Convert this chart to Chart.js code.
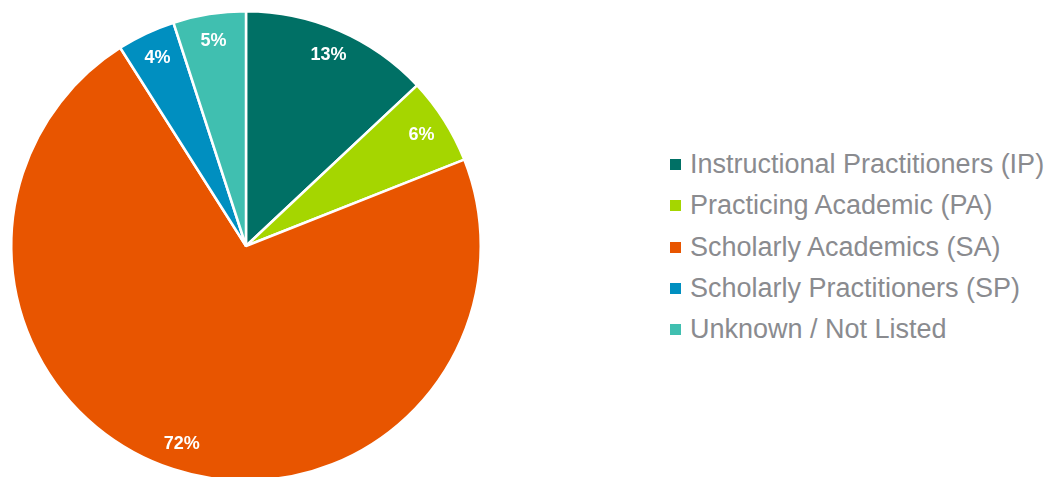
<!DOCTYPE html>
<html lang="en">
<head>
  <meta charset="UTF-8">
  <title>Faculty Qualification Mix</title>
  <script src="https://cdn.jsdelivr.net/npm/chart.js"></script>
  <style>
    html, body {
      margin: 0;
      padding: 0;
      background: #ffffff;
      overflow: hidden;
      width: 1055px;
      height: 477px;
    }
    #wrap {
      position: absolute;
      left: 0;
      top: 0;
      width: 492px;
      height: 492px;
    }
    .legend {
      position: absolute;
      left: 670px;
      top: 144px;
      font-family: "Liberation Sans", Arial, sans-serif;
      font-size: 27px;
      color: #8a8b8f;
      white-space: nowrap;
    }
    .legend-item {
      display: flex;
      align-items: center;
      height: 41.25px;
    }
    .legend-color {
      width: 11px;
      height: 11px;
      margin-right: 9px;
      flex: none;
      display: inline-block;
    }
  </style>
</head>
<body>
  <div id="wrap"><canvas id="pieChart" width="492" height="492"></canvas></div>
  <div class="legend" id="legend"></div>

  <script>
    // Categories and shares (percent)
    const categories = [
      'Instructional Practitioners (IP)',
      'Practicing Academic (PA)',
      'Scholarly Academics (SA)',
      'Scholarly Practitioners (SP)',
      'Unknown / Not Listed'
    ];
    const shares = [13, 6, 72, 4, 5];
    const sliceColors = ['#007065', '#a5d600', '#e85500', '#008fc0', '#40bfb0'];

    // Percent labels drawn inside each slice, near the rim
    const sliceLabels = {
      id: 'sliceLabels',
      afterDatasetsDraw(chart) {
        const ctx = chart.ctx;
        const meta = chart.getDatasetMeta(0);
        ctx.save();
        ctx.fillStyle = '#ffffff';
        ctx.font = 'bold 18px "Liberation Sans", Arial, sans-serif';
        ctx.textAlign = 'center';
        ctx.textBaseline = 'middle';
        meta.data.forEach((arc, i) => {
          const p = arc.getProps(['x', 'y', 'startAngle', 'endAngle', 'outerRadius'], true);
          const mid = (p.startAngle + p.endAngle) / 2;
          const r = p.outerRadius * 0.885;
          ctx.fillText(shares[i] + '%', p.x + Math.cos(mid) * r, p.y + Math.sin(mid) * r);
        });
        ctx.restore();
      }
    };

    const ctx = document.getElementById('pieChart').getContext('2d');
    new Chart(ctx, {
      type: 'pie',
      data: {
        labels: categories,
        datasets: [{
          data: shares,
          backgroundColor: sliceColors,
          borderColor: '#ffffff',
          borderWidth: 2.5
        }]
      },
      options: {
        responsive: false,
        animation: false,
        layout: { padding: 10 },
        plugins: {
          legend: { display: false },
          tooltip: { enabled: false }
        }
      },
      plugins: [sliceLabels]
    });

    // Legend
    const legend = document.getElementById('legend');
    categories.forEach((name, i) => {
      const item = document.createElement('div');
      item.className = 'legend-item';
      item.innerHTML = `<span class="legend-color" style="background-color: ${sliceColors[i]}"></span>${name}`;
      legend.appendChild(item);
    });
  </script>
</body>
</html>
